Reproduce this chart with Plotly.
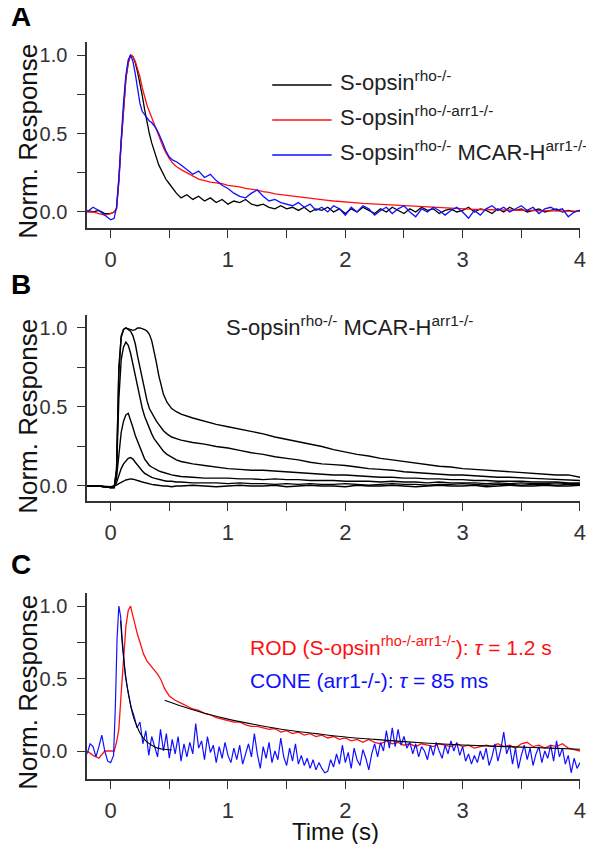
import plotly.graph_objects as go

# ---------------- Panel A data ----------------
T_A = [-0.2, -0.15, -0.1, -0.05, 0.0,
       0.03, 0.05, 0.07, 0.09, 0.11, 0.13, 0.15, 0.17, 0.19, 0.21, 0.23, 0.25, 0.27, 0.29, 0.31, 0.33, 0.35,
       0.37, 0.39, 0.41, 0.43, 0.45, 0.47,
       0.5, 0.53, 0.56,
       0.6, 0.65, 0.7, 0.75, 0.8, 0.85, 0.9, 0.95, 1.0, 1.05,
       1.1, 1.15, 1.2, 1.25, 1.3, 1.35, 1.4, 1.45, 1.5, 1.55,
       1.6, 1.65, 1.7, 1.75, 1.8, 1.85, 1.9, 1.95, 2.0, 2.05,
       2.1, 2.15, 2.2, 2.25, 2.3, 2.35, 2.4, 2.45, 2.5, 2.55,
       2.6, 2.65, 2.7, 2.75, 2.8, 2.85, 2.9, 2.95, 3.0, 3.05,
       3.1, 3.15, 3.2, 3.25, 3.3, 3.35, 3.4, 3.45, 3.5, 3.55,
       3.6, 3.65, 3.7, 3.75, 3.8, 3.85, 3.9, 3.95, 4.0]

A_BLACK = [0.01, 0.0, 0.01, -0.01, -0.01,
           0.0, 0.02, 0.2, 0.45, 0.68, 0.85, 0.95, 1.0, 0.99, 0.95, 0.89, 0.82, 0.74, 0.65, 0.57, 0.5, 0.44,
           0.39, 0.34, 0.3, 0.27, 0.24, 0.21,
           0.18, 0.15, 0.12,
           0.09, 0.11, 0.08, 0.1, 0.07, 0.09, 0.06, 0.08, 0.05, 0.07,
           0.06, 0.08, 0.05, 0.04, 0.05, 0.03, 0.02, 0.04, 0.02, 0.03,
           0.01, 0.03, 0.0, 0.02, 0.01, 0.03, 0.0, 0.02, -0.01, 0.02,
           0.0, 0.03, 0.01, -0.01, 0.02, 0.0, 0.03, 0.01, -0.01, 0.02,
           0.0, 0.03, 0.01, 0.02, -0.01, 0.01, 0.02, 0.0, 0.01, 0.03,
           0.0, 0.02, 0.01, -0.01, 0.02, 0.0, 0.03, 0.01, 0.02, 0.0,
           0.01, 0.02, 0.0, 0.01, 0.02, 0.0, 0.01, 0.0, 0.01]

A_RED = [0.0, 0.0, -0.01, -0.02, -0.01,
         0.0, 0.02, 0.19, 0.44, 0.67, 0.85, 0.95, 1.0, 0.99, 0.96, 0.91, 0.86, 0.79, 0.73, 0.68, 0.64, 0.6,
         0.56, 0.52, 0.48, 0.44, 0.41, 0.38,
         0.34, 0.31, 0.29,
         0.27, 0.25, 0.23, 0.21, 0.2, 0.19, 0.185, 0.18, 0.17, 0.165,
         0.16, 0.15, 0.145, 0.14, 0.13, 0.125, 0.115, 0.11, 0.105, 0.1,
         0.095, 0.09, 0.085, 0.082, 0.078, 0.074, 0.07, 0.068, 0.065, 0.06,
         0.058, 0.055, 0.053, 0.05, 0.047, 0.045, 0.042, 0.04, 0.038, 0.035,
         0.033, 0.031, 0.029, 0.027, 0.025, 0.024, 0.022, 0.021, 0.02, 0.018,
         0.017, 0.016, 0.015, 0.014, 0.013, 0.012, 0.011, 0.011, 0.01, 0.009,
         0.009, 0.008, 0.008, 0.007, 0.007, 0.006, 0.006, 0.005, 0.005]

A_BLUE = [0.0, 0.03, 0.01, -0.02, -0.05,
          -0.04, 0.03, 0.22, 0.47, 0.7, 0.87, 0.97, 1.0, 0.96, 0.88, 0.78, 0.69, 0.64, 0.62, 0.6, 0.58, 0.57,
          0.55, 0.53, 0.5, 0.47, 0.43, 0.39,
          0.35, 0.33, 0.32,
          0.3, 0.27, 0.24, 0.26, 0.22, 0.24, 0.2, 0.17, 0.15, 0.12,
          0.1, 0.09, 0.12, 0.14, 0.1, 0.07, 0.08, 0.06, 0.05, 0.04,
          0.06, 0.03, 0.05, 0.01, 0.03, 0.0, 0.04, 0.02, -0.02, 0.03,
          0.0, 0.04, 0.02, -0.02, 0.01, 0.03, -0.01, 0.02, 0.04, 0.0,
          -0.03, 0.02, 0.0, 0.03, 0.01, -0.02, 0.01, 0.03, 0.0, -0.04,
          0.01, -0.02, 0.02, 0.04, 0.01, 0.03, 0.0, 0.02, 0.04, 0.01,
          0.03, -0.01, 0.02, 0.03, 0.01, 0.02, -0.03, 0.0, 0.01]

A_NAMES = ["S-opsin<sup>rho-/-</sup>",
           "S-opsin<sup>rho-/-arr1-/-</sup>",
           "S-opsin<sup>rho-/-</sup> MCAR-H<sup>arr1-/-</sup>"]

# ---------------- Panel B data ----------------
T_B = [-0.2, -0.1, 0.0,
       0.03, 0.05, 0.07, 0.09, 0.11, 0.13, 0.15, 0.17, 0.19, 0.21, 0.23, 0.25, 0.27, 0.29, 0.31, 0.33,
       0.35, 0.37, 0.39, 0.41, 0.43, 0.45,
       0.48, 0.52, 0.56, 0.6,
       0.7, 0.8, 0.9, 1.0, 1.1, 1.2, 1.3, 1.4, 1.5, 1.6,
       1.7, 1.8, 1.9, 2.0, 2.1, 2.2, 2.3, 2.4, 2.5, 2.6,
       2.7, 2.8, 2.9, 3.0, 3.1, 3.2, 3.3, 3.4, 3.5, 3.6,
       3.7, 3.8, 3.9, 4.0]

B_1 = [0.0, 0.0, -0.01,
       -0.01, 0.1, 0.75, 0.95, 0.99, 1.0, 0.995, 0.99, 0.985, 0.99, 1.0, 1.0, 0.995, 0.99, 0.98, 0.96,
       0.92, 0.86, 0.78, 0.7, 0.63, 0.58,
       0.53, 0.49, 0.47, 0.455,
       0.43, 0.41, 0.39, 0.375, 0.36, 0.345, 0.33, 0.31, 0.295, 0.28,
       0.265, 0.25, 0.23, 0.215, 0.2, 0.19, 0.175, 0.165, 0.155, 0.145,
       0.135, 0.125, 0.12, 0.11, 0.105, 0.1, 0.095, 0.09, 0.088, 0.08,
       0.075, 0.07, 0.07, 0.055]
B_2 = [0.0, 0.0, -0.01,
       -0.01, 0.1, 0.72, 0.94, 0.99, 1.0, 0.99, 0.98, 0.95, 0.9, 0.82, 0.75, 0.68, 0.6, 0.54, 0.49,
       0.46, 0.43, 0.41, 0.39, 0.37, 0.35,
       0.33, 0.31, 0.3, 0.29,
       0.275, 0.265, 0.25, 0.24, 0.225, 0.21, 0.2, 0.185, 0.175, 0.165,
       0.15, 0.14, 0.135, 0.13, 0.12, 0.11, 0.105, 0.1, 0.09, 0.085,
       0.08, 0.075, 0.07, 0.07, 0.065, 0.06, 0.055, 0.055, 0.05, 0.048,
       0.045, 0.042, 0.04, 0.035]
B_3 = [0.0, 0.0, -0.01,
       -0.01, 0.08, 0.55, 0.8, 0.88, 0.91, 0.89, 0.84, 0.77, 0.7, 0.62, 0.55, 0.49, 0.44, 0.4, 0.36,
       0.33, 0.3, 0.28, 0.26, 0.24, 0.22,
       0.2, 0.18, 0.165, 0.155,
       0.14, 0.13, 0.12, 0.11, 0.105, 0.1, 0.1, 0.095, 0.09, 0.085,
       0.08, 0.075, 0.07, 0.07, 0.065, 0.06, 0.055, 0.055, 0.05, 0.05,
       0.045, 0.045, 0.04, 0.04, 0.035, 0.035, 0.03, 0.03, 0.03, 0.025,
       0.025, 0.025, 0.02, 0.02]
B_4 = [0.0, 0.0, -0.01,
       -0.01, 0.05, 0.22, 0.34, 0.41, 0.45, 0.46, 0.42, 0.37, 0.32, 0.28, 0.24, 0.2, 0.17, 0.15, 0.13,
       0.12, 0.11, 0.1, 0.095, 0.09, 0.085,
       0.08, 0.07, 0.065, 0.06,
       0.055, 0.05, 0.05, 0.05, 0.045, 0.045, 0.04, 0.045, 0.04, 0.04,
       0.035, 0.035, 0.035, 0.03, 0.03, 0.03, 0.025, 0.03, 0.025, 0.025,
       0.02, 0.025, 0.02, 0.02, 0.02, 0.015, 0.02, 0.015, 0.02, 0.015,
       0.015, 0.02, 0.015, 0.015]
B_5 = [0.0, 0.0, -0.01,
       -0.005, 0.02, 0.07, 0.11, 0.14, 0.16, 0.175, 0.18, 0.17, 0.15, 0.13, 0.11, 0.095, 0.08, 0.07, 0.06,
       0.055, 0.05, 0.045, 0.04, 0.04, 0.035,
       0.03, 0.03, 0.025, 0.025,
       0.02, 0.02, 0.02, 0.015, 0.02, 0.015, 0.015, 0.01, 0.015, 0.01,
       0.015, 0.01, 0.01, 0.015, 0.01, 0.005, 0.01, 0.015, 0.01, 0.01,
       0.005, 0.01, 0.01, 0.015, 0.01, 0.005, 0.01, 0.01, 0.005, 0.01,
       0.01, 0.005, 0.01, 0.01]
B_6 = [0.0, 0.0, -0.005,
       0.0, 0.005, 0.015, 0.025, 0.03, 0.038, 0.042, 0.045, 0.043, 0.04, 0.035, 0.03, 0.025, 0.02, 0.015, 0.012,
       0.01, 0.008, 0.005, 0.005, 0.0, 0.0,
       0.0, -0.005, 0.0, 0.0,
       0.005, 0.0, -0.005, 0.0, 0.005, 0.0, 0.0, 0.005, -0.005, 0.0,
       0.005, 0.0, 0.0, -0.005, 0.005, 0.0, 0.0, 0.005, 0.0, -0.005,
       0.0, 0.005, 0.0, 0.0, 0.005, -0.005, 0.0, 0.005, 0.0, 0.0,
       0.005, 0.0, 0.0, 0.005]
B_SERIES = [B_1, B_2, B_3, B_4, B_5, B_6]

# ---------------- Panel C data ----------------
T_C_ROD = [-0.2, -0.15, -0.1, -0.05, 0.0,
           0.03, 0.05, 0.07, 0.09, 0.11, 0.13, 0.15, 0.17, 0.19, 0.21, 0.23, 0.25,
           0.28, 0.31, 0.34, 0.37, 0.4, 0.43, 0.46,
           0.5, 0.55, 0.6, 0.65, 0.7, 0.75, 0.8, 0.85, 0.9, 0.95,
           1.0, 1.05, 1.1, 1.15, 1.2, 1.25, 1.3, 1.35, 1.4, 1.45,
           1.5, 1.55, 1.6, 1.65, 1.7, 1.75, 1.8, 1.85, 1.9, 1.95,
           2.0, 2.05, 2.1, 2.15, 2.2, 2.25, 2.3, 2.35, 2.4, 2.45,
           2.5, 2.55, 2.6, 2.65, 2.7, 2.75, 2.8, 2.85, 2.9, 2.95,
           3.0, 3.05, 3.1, 3.15, 3.2, 3.25, 3.3, 3.35, 3.4, 3.45,
           3.5, 3.55, 3.6, 3.65, 3.7, 3.75, 3.8, 3.85, 3.9, 3.95,
           4.0]
C_ROD = [0.0, -0.03, -0.05, 0.0, 0.0,
         0.0, 0.06, 0.15, 0.4, 0.63, 0.86, 0.97, 1.0, 0.93, 0.86, 0.8, 0.75,
         0.67, 0.62, 0.59, 0.56, 0.53, 0.49, 0.43,
         0.38, 0.35, 0.33, 0.31, 0.29, 0.28, 0.26, 0.25, 0.23, 0.22,
         0.21, 0.2, 0.2, 0.18, 0.17, 0.17, 0.16, 0.15, 0.155, 0.13,
         0.14, 0.12, 0.13, 0.11, 0.12, 0.1, 0.11, 0.09, 0.1, 0.08,
         0.09, 0.07, 0.08, 0.06, 0.08, 0.06, 0.05, 0.07, 0.05, 0.06,
         0.04, 0.05, 0.03, 0.05, 0.04, 0.03, 0.05, 0.04, 0.03, 0.05,
         0.03, 0.04, 0.02, 0.03, 0.04, 0.03, 0.05, 0.03, 0.04, 0.02,
         0.05, 0.06, 0.03, 0.04, 0.02, 0.04, 0.03, 0.05, 0.02, 0.01,
         0.0]

T_C_CONE = [-0.2, -0.175, -0.15, -0.125, -0.1, -0.075, -0.05, -0.025, 0.0, 0.025,
            0.04, 0.055, 0.07, 0.085, 0.1,
            0.125, 0.15, 0.175, 0.2, 0.225, 0.25, 0.275, 0.3, 0.325, 0.35, 0.375, 0.4, 0.425, 0.45, 0.475, 0.5,
            0.525, 0.55, 0.575, 0.6, 0.625, 0.65, 0.675, 0.7, 0.725, 0.75,
            0.775, 0.8, 0.825, 0.85, 0.875, 0.9, 0.925, 0.95, 0.975, 1.0,
            1.025, 1.05, 1.075, 1.1, 1.125, 1.15, 1.175, 1.2, 1.225, 1.25,
            1.275, 1.3, 1.325, 1.35, 1.375, 1.4, 1.425, 1.45, 1.475, 1.5,
            1.525, 1.55, 1.575, 1.6, 1.625, 1.65, 1.675, 1.7, 1.725, 1.75,
            1.775, 1.8, 1.825, 1.85, 1.875, 1.9, 1.925, 1.95, 1.975, 2.0,
            2.025, 2.05, 2.075, 2.1, 2.125, 2.15, 2.175, 2.2, 2.225, 2.25,
            2.275, 2.3, 2.325, 2.35, 2.375, 2.4, 2.425, 2.45, 2.475, 2.5,
            2.525, 2.55, 2.575, 2.6, 2.625, 2.65, 2.675, 2.7, 2.725, 2.75,
            2.775, 2.8, 2.825, 2.85, 2.875, 2.9, 2.925, 2.95, 2.975, 3.0,
            3.025, 3.05, 3.075, 3.1, 3.125, 3.15, 3.175, 3.2, 3.225, 3.25,
            3.275, 3.3, 3.325, 3.35, 3.375, 3.4, 3.425, 3.45, 3.475, 3.5,
            3.525, 3.55, 3.575, 3.6, 3.625, 3.65, 3.675, 3.7, 3.725, 3.75,
            3.775, 3.8, 3.825, 3.85, 3.875, 3.9, 3.925, 3.95, 3.975, 4.0]
C_CONE = [-0.02, 0.05, 0.03, -0.04, 0.03, 0.11, 0.0, -0.07, -0.08, -0.03,
          0.3, 0.78, 1.0, 0.93, 0.76,
          0.52, 0.4, 0.3, 0.24, 0.16, 0.2, 0.05, 0.14, -0.03, 0.1, 0.03, -0.04, 0.15, 0.0, 0.12, -0.05,
          0.08, -0.02, 0.1, -0.07, 0.05, -0.04, 0.06, -0.02, 0.19, 0.02,
          0.07, -0.06, 0.1, -0.01, 0.04, -0.08, 0.03, -0.05, 0.06, -0.03,
          -0.08, 0.02, -0.06, 0.04, -0.09, -0.02, 0.05, -0.04, 0.12, -0.02,
          -0.12, 0.03, -0.05, 0.06, -0.08, 0.0, -0.06, 0.09, -0.04, -0.1,
          0.02, -0.07, 0.05, -0.09, -0.03, -0.1, -0.05, -0.12, -0.06, -0.13,
          -0.08, -0.12, -0.15, -0.14, -0.06, -0.11, -0.02, -0.09, 0.04, -0.08,
          -0.01, -0.12, 0.02, -0.06, -0.1, 0.01, -0.05, -0.13, -0.02, 0.05,
          -0.04, 0.06, 0.0, 0.14, 0.02, 0.16, 0.03, 0.15, 0.04, 0.1,
          0.02, 0.06, -0.02, 0.05, -0.04, 0.03, 0.0, -0.06, 0.04, -0.03,
          0.06, 0.0, -0.05, 0.04, -0.02, 0.07, 0.0, 0.06, -0.03, 0.03,
          -0.07, -0.02, -0.09, -0.03, -0.08, 0.0, -0.06, 0.02, -0.1, -0.04,
          0.05, -0.07, 0.01, 0.13, -0.02, 0.04, -0.09, 0.02, -0.12, -0.03,
          0.04, -0.06, 0.02, -0.1, -0.02, 0.03, -0.08, 0.0, -0.05, 0.04,
          -0.07, 0.07, -0.04, 0.02, -0.09, -0.03, -0.15, -0.05, -0.12, -0.08]

FIT_CONE_T = [0.085, 0.1, 0.12, 0.14, 0.16, 0.18, 0.2, 0.23, 0.26, 0.3, 0.35, 0.4, 0.45, 0.52]
FIT_CONE_Y = [0.9, 0.73, 0.57, 0.45, 0.36, 0.28, 0.22, 0.16, 0.11, 0.07, 0.04, 0.02, 0.012, 0.008]
FIT_ROD_T = [0.46, 0.6, 0.8, 1.0, 1.25, 1.5, 1.75, 2.0, 2.25, 2.5, 2.75, 3.0, 3.25, 3.5, 3.75, 4.0]
FIT_ROD_Y = [0.35, 0.31, 0.26, 0.22, 0.18, 0.145, 0.12, 0.097, 0.08, 0.065, 0.052, 0.042, 0.034, 0.027,
             0.02, 0.012]

X_TICKS = [0, 0.5, 1, 1.5, 2, 2.5, 3, 3.5, 4]
X_LABELS = ["0", "", "1", "", "2", "", "3", "", "4"]
Y_TICKS = [0, 0.25, 0.5, 0.75, 1.0]
Y_LABELS = ["0.0", "", "0.5", "", "1.0"]

for t, ys in [(T_A, A_BLACK), (T_A, A_RED), (T_A, A_BLUE), (T_C_ROD, C_ROD), (T_C_CONE, C_CONE),
              (FIT_CONE_T, FIT_CONE_Y), (FIT_ROD_T, FIT_ROD_Y)] + [(T_B, s) for s in B_SERIES]:
    assert len(t) == len(ys), (len(t), len(ys))

# ---------------- layout geometry (pixels of the 594x852 window) ----------------
OFF = 8                              # default page margin of the html body
W, H = 594 - 2 * OFF, 852 - 2 * OFF  # page (figure + body margins) fills the window exactly
FONT = "Liberation Sans, Arial, sans-serif"
RED = "#ff1010"
BLUE = "#1010ff"


def px(x):
    return (x - OFF) / W


def py(y):
    return 1 - (y - OFF) / H


fig = go.Figure()

# Panel A
for ys, col in zip([A_BLACK, A_RED, A_BLUE], ["#000000", RED, BLUE]):
    fig.add_trace(go.Scatter(x=T_A, y=ys, mode="lines", line=dict(color=col, width=1.3),
                             xaxis="x", yaxis="y", showlegend=False))
# Panel B
for ys in B_SERIES:
    fig.add_trace(go.Scatter(x=T_B, y=ys, mode="lines", line=dict(color="#000000", width=1.4),
                             xaxis="x2", yaxis="y2", showlegend=False))
# Panel C
fig.add_trace(go.Scatter(x=T_C_ROD, y=C_ROD, mode="lines", line=dict(color=RED, width=1.3),
                         xaxis="x3", yaxis="y3", showlegend=False))
fig.add_trace(go.Scatter(x=T_C_CONE, y=C_CONE, mode="lines", line=dict(color=BLUE, width=1.2),
                         xaxis="x3", yaxis="y3", showlegend=False))
fig.add_trace(go.Scatter(x=FIT_CONE_T, y=FIT_CONE_Y, mode="lines", line=dict(color="#000000", width=1.1,
                         shape="spline"), xaxis="x3", yaxis="y3", showlegend=False))
fig.add_trace(go.Scatter(x=FIT_ROD_T, y=FIT_ROD_Y, mode="lines", line=dict(color="#000000", width=1.1,
                         shape="spline"), xaxis="x3", yaxis="y3", showlegend=False))

XDOM = [px(88), min(1.0, px(589))]
axis_common = dict(showline=True, linecolor="#333333", linewidth=1.5, ticks="outside", ticklen=8,
                   tickwidth=1.2, tickcolor="#333333", showgrid=False, zeroline=False, fixedrange=True,
                   ticklabeloverflow="allow")


def xax(anchor):
    return dict(axis_common, domain=XDOM, range=[-0.2, 4.0], anchor=anchor, tickmode="array",
                tickvals=X_TICKS, ticktext=X_LABELS, ticklabelstandoff=3,
                tickfont=dict(family=FONT, size=22, color="#333333"))


def yax(anchor, top, bottom, rng):
    return dict(axis_common, domain=[py(bottom), py(top)], range=rng, anchor=anchor, tickmode="array",
                tickvals=Y_TICKS, ticktext=Y_LABELS, ticklabelstandoff=6,
                tickfont=dict(family=FONT, size=20, color="#333333"))


fig.update_layout(
    width=W, height=H, margin=dict(l=0, r=0, t=0, b=0),
    paper_bgcolor="white", plot_bgcolor="white", showlegend=False,
    xaxis=xax("y"), yaxis=yax("x", 41.7, 228, [-0.102, 1.085]),
    xaxis2=xax("y2"), yaxis2=yax("x2", 315, 501, [-0.095, 1.082]),
    xaxis3=xax("y3"), yaxis3=yax("x3", 593, 779, [-0.193, 1.09]),
)

ann = []
for letter, yy in [("A", 16), ("B", 284), ("C", 564)]:
    ann.append(dict(text="<b>%s</b>" % letter, x=px(9), y=py(yy), xref="paper", yref="paper",
                    xanchor="left", yanchor="middle", showarrow=False,
                    font=dict(family=FONT, size=28, color="#000000")))
for yy in [141, 416, 692]:
    ann.append(dict(text="Norm. Response", x=px(28), y=py(yy), xref="paper", yref="paper",
                    xanchor="center", yanchor="middle", textangle=-90, showarrow=False,
                    font=dict(family=FONT, size=26, color="#111111")))
# legend for panel A
shapes = []
for name, col, yy in zip(A_NAMES, ["#000000", RED, BLUE], [85, 120, 155]):
    shapes.append(dict(type="line", xref="paper", yref="paper", x0=px(275), x1=px(335),
                       y0=py(yy), y1=py(yy), line=dict(color=col, width=1.3)))
    ann.append(dict(text=name, x=px(341), y=py(yy - 4), xref="paper", yref="paper",
                    xanchor="left", yanchor="middle", showarrow=False,
                    font=dict(family=FONT, size=22, color="#222222")))
# panel B label
ann.append(dict(text="S-opsin<sup>rho-/-</sup> MCAR-H<sup>arr1-/-</sup>", x=px(226), y=py(326),
                xref="paper", yref="paper", xanchor="left", yanchor="middle", showarrow=False,
                font=dict(family=FONT, size=22, color="#222222")))
# panel C labels
ann.append(dict(text="ROD (S-opsin<sup>rho-/-arr1-/-</sup>): <i>τ</i> = 1.2 s", x=px(251), y=py(646),
                xref="paper", yref="paper", xanchor="left", yanchor="middle", showarrow=False,
                font=dict(family=FONT, size=21, color=RED)))
ann.append(dict(text="CONE (arr1-/-): <i>τ</i> = 85 ms", x=px(251), y=py(680),
                xref="paper", yref="paper", xanchor="left", yanchor="middle", showarrow=False,
                font=dict(family=FONT, size=21, color=BLUE)))
ann.append(dict(text="Time (s)", x=px(339), y=py(831), xref="paper", yref="paper",
                xanchor="center", yanchor="middle", showarrow=False,
                font=dict(family=FONT, size=24, color="#111111")))

fig.update_layout(annotations=ann, shapes=shapes)
fig.write_html("out.html")
